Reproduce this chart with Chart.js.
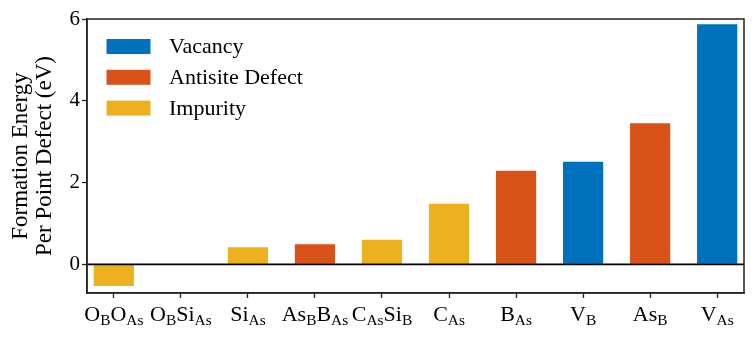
<!DOCTYPE html>
<html>
<head>
<meta charset="utf-8">
<title>Formation energy per point defect</title>
<script src="https://cdn.jsdelivr.net/npm/chart.js@4"></script>
<style>
    html, body { margin: 0; padding: 0; background: #fff; }
    #wrap { width: 756px; height: 341px; position: relative; }
</style>
</head>
<body>
<div id="wrap"><canvas id="defectChart"></canvas></div>
<script>
// Data (subscripts written as _{...})
const categories = ['O_{B}O_{As}', 'O_{B}Si_{As}', 'Si_{As}', 'As_{B}B_{As}', 'C_{As}Si_{B}',
    'C_{As}', 'B_{As}', 'V_{B}', 'As_{B}', 'V_{As}'];
const energies = [-0.53, 0, 0.42, 0.49, 0.60, 1.48, 2.29, 2.51, 3.45, 5.87];
const defectTypes = ['Impurity', 'Impurity', 'Impurity', 'Antisite Defect', 'Impurity',
    'Impurity', 'Antisite Defect', 'Vacancy', 'Antisite Defect', 'Vacancy'];
const legendOrder = ['Vacancy', 'Antisite Defect', 'Impurity'];
const typeColors = ['#0072BD', '#D95319', '#EDB120'];
const yTicks = [0, 2, 4, 6];
const yTitle = ['Formation Energy', 'Per Point Defect (eV)'];

const serif = "'Liberation Serif', 'Times New Roman', 'DejaVu Serif', serif";
const ink = '#222';

// One dataset per defect type, so every type gets one colour
const datasets = legendOrder.map((type, k) => ({
    label: type,
    data: categories
        .map((c, i) => ({ x: i, y: energies[i], type: defectTypes[i] }))
        .filter(p => p.type === type)
        .map(p => ({ x: p.x, y: p.y })),
    backgroundColor: typeColors[k],
    borderWidth: 0
}));

// Split 'As_{B}' into alternating normal / subscript pieces
function splitLabel(label) {
    return label.split(/_\{([^}]*)\}/).map((text, i) => ({ text, sub: i % 2 === 1 })).filter(p => p.text);
}

// Frame, zero line, subscripted tick labels and the legend
const decorPlugin = {
    id: 'decor',
    afterDatasetsDraw(chart) {
        const { ctx, chartArea: a, scales } = chart;
        const y0 = scales.y.getPixelForValue(0);
        ctx.save();
        ctx.strokeStyle = '#000';
        ctx.lineWidth = 1.7;
        ctx.beginPath();
        ctx.moveTo(a.left, y0);
        ctx.lineTo(a.right, y0);
        ctx.stroke();
        ctx.restore();
    },
    afterDraw(chart) {
        const { ctx, chartArea: a, scales } = chart;
        ctx.save();
        ctx.strokeStyle = ink;
        ctx.lineWidth = 1.5;
        ctx.strokeRect(a.left, a.top, a.right - a.left, a.bottom - a.top);

        // category labels with subscripts
        const mainFont = '22px ' + serif;
        const subFont = '15.4px ' + serif;
        ctx.fillStyle = '#000';
        ctx.textBaseline = 'alphabetic';
        ctx.textAlign = 'left';
        categories.forEach((label, i) => {
            const parts = splitLabel(label);
            let total = 0;
            parts.forEach(p => {
                ctx.font = p.sub ? subFont : mainFont;
                p.w = ctx.measureText(p.text).width;
                total += p.w;
            });
            let x = scales.x.getPixelForValue(i) - total / 2;
            const base = a.bottom + 28;
            parts.forEach(p => {
                ctx.font = p.sub ? subFont : mainFont;
                ctx.fillText(p.text, x, p.sub ? base + 4 : base);
                x += p.w;
            });
        });

        // legend in the upper left of the plot
        ctx.font = '22px ' + serif;
        ctx.textBaseline = 'middle';
        chart.data.datasets.forEach((ds, k) => {
            const cy = a.top + 27.5 + k * 30.8;
            ctx.fillStyle = ds.backgroundColor;
            ctx.fillRect(a.left + 19.5, cy - 7.5, 44, 15);
            ctx.fillStyle = '#000';
            ctx.fillText(ds.label, a.left + 82, cy + 1);
        });
        ctx.restore();
    }
};

const ctx = document.getElementById('defectChart').getContext('2d');
const chart = new Chart(ctx, {
    type: 'bar',
    data: { datasets },
    options: {
        responsive: true,
        maintainAspectRatio: false,
        animation: false,
        layout: { padding: { top: 19, right: 12, left: 0, bottom: 0 } },
        datasets: {
            bar: { grouped: false, categoryPercentage: 0.6, barPercentage: 1 }
        },
        plugins: {
            legend: { display: false },
            tooltip: { enabled: false }
        },
        scales: {
            x: {
                type: 'linear',
                min: -0.4,
                max: 9.4,
                offset: false,
                afterBuildTicks: scale => { scale.ticks = categories.map((c, i) => ({ value: i })); },
                afterFit: scale => { scale.height = 48; },
                ticks: { display: false },
                grid: { offset: false, drawOnChartArea: false, tickLength: 5, tickColor: ink, tickWidth: 1.3 },
                border: { color: ink, width: 1.5 }
            },
            y: {
                min: -0.7,
                max: 6,
                afterBuildTicks: scale => { scale.ticks = yTicks.map(v => ({ value: v })); },
                afterFit: scale => { scale.width = 87; },
                ticks: { color: '#000', padding: 2, font: { family: serif, size: 21 } },
                grid: { drawOnChartArea: false, tickLength: 5, tickColor: ink, tickWidth: 1.3 },
                border: { color: ink, width: 1.5 },
                title: {
                    display: true,
                    text: yTitle,
                    color: '#000',
                    padding: { top: 9, bottom: 0 },
                    font: { family: serif, size: 23, lineHeight: 1.03 }
                }
            }
        }
    },
    plugins: [decorPlugin]
});
</script>
</body>
</html>
